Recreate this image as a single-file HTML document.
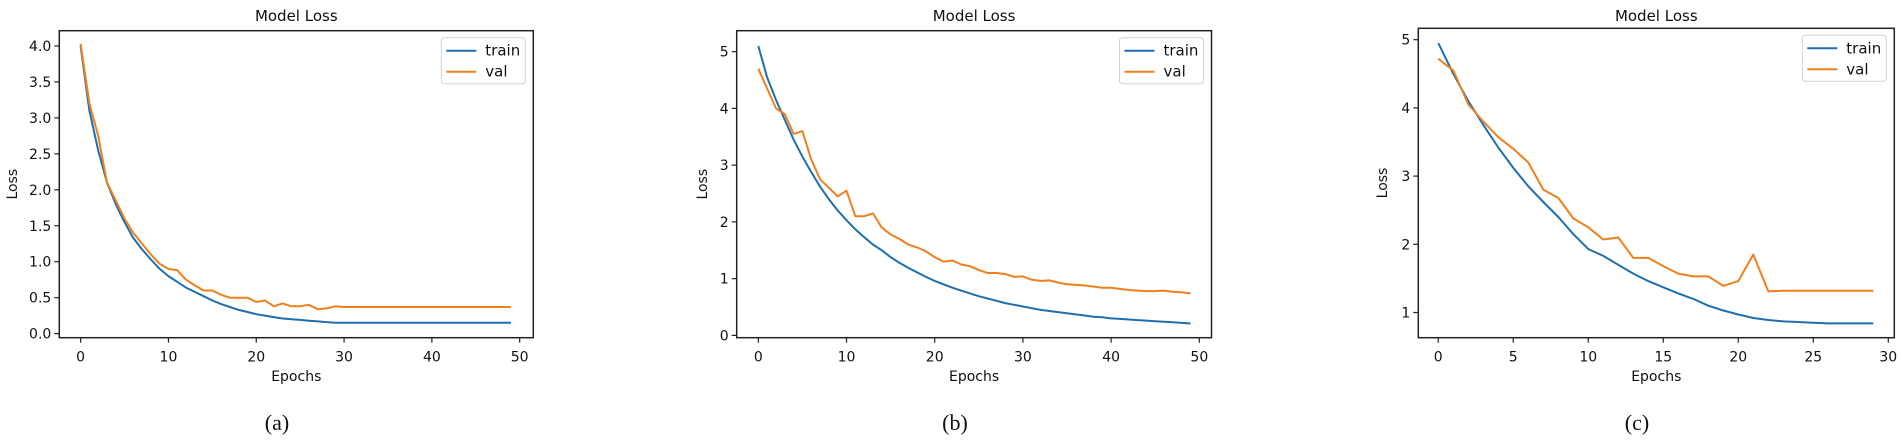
<!DOCTYPE html>
<html><head><meta charset="utf-8">
<style>
html,body{margin:0;padding:0;background:#fff;}
svg{display:block;}
text{font-family:"DejaVu Sans","Liberation Sans",sans-serif;fill:#111;}
.cap{font-family:"Liberation Serif",serif;font-size:22px;}
</style></head>
<body>
<svg id="fig" width="1902" height="445" viewBox="0 0 1902 445" xmlns="http://www.w3.org/2000/svg"></svg>
<script>
const trainA=[4.0,3.1,2.55,2.1,1.8,1.55,1.33,1.17,1.03,0.9,0.8,0.72,0.64,0.58,0.52,0.46,0.41,0.37,0.33,0.3,0.27,0.25,0.23,0.21,0.2,0.19,0.18,0.17,0.16,0.15,0.15,0.15,0.15,0.15,0.15,0.15,0.15,0.15,0.15,0.15,0.15,0.15,0.15,0.15,0.15,0.15,0.15,0.15,0.15,0.15];
const valA=[4.03,3.2,2.75,2.1,1.85,1.6,1.4,1.25,1.1,0.97,0.9,0.88,0.75,0.67,0.6,0.6,0.54,0.5,0.5,0.5,0.44,0.46,0.38,0.42,0.38,0.38,0.4,0.34,0.35,0.38,0.37,0.37,0.37,0.37,0.37,0.37,0.37,0.37,0.37,0.37,0.37,0.37,0.37,0.37,0.37,0.37,0.37,0.37,0.37,0.37];
const trainB=[5.1,4.55,4.15,3.8,3.45,3.15,2.88,2.62,2.4,2.2,2.03,1.87,1.73,1.6,1.5,1.38,1.28,1.19,1.11,1.03,0.96,0.9,0.84,0.79,0.74,0.69,0.65,0.61,0.57,0.54,0.51,0.48,0.45,0.43,0.41,0.39,0.37,0.35,0.33,0.32,0.3,0.29,0.28,0.27,0.26,0.25,0.24,0.23,0.22,0.21];
const valB=[4.7,4.35,4.0,3.9,3.55,3.6,3.1,2.75,2.6,2.45,2.55,2.1,2.1,2.15,1.9,1.78,1.7,1.6,1.55,1.48,1.38,1.3,1.32,1.25,1.22,1.15,1.1,1.1,1.08,1.03,1.04,0.98,0.96,0.97,0.93,0.9,0.89,0.88,0.86,0.84,0.84,0.82,0.8,0.79,0.78,0.78,0.79,0.77,0.76,0.74];
const trainC=[4.95,4.5,4.1,3.75,3.42,3.12,2.85,2.62,2.4,2.15,1.93,1.83,1.7,1.57,1.46,1.37,1.28,1.2,1.1,1.03,0.97,0.92,0.89,0.87,0.86,0.85,0.84,0.84,0.84,0.84];
const valC=[4.72,4.55,4.05,3.8,3.57,3.4,3.2,2.8,2.68,2.38,2.25,2.07,2.1,1.8,1.8,1.68,1.57,1.53,1.53,1.39,1.46,1.85,1.31,1.32,1.32,1.32,1.32,1.32,1.32,1.32];
const xTicksAB=[0,10,20,30,40,50];
const xTicksC=[0,5,10,15,20,25,30];
const yTicksA=[0,0.5,1,1.5,2,2.5,3,3.5,4];
const yTickLabelsA=["0.0","0.5","1.0","1.5","2.0","2.5","3.0","3.5","4.0"];
const yTicksB=[0,1,2,3,4,5];
const yTicksC=[1,2,3,4,5];
const captions=["(a)","(b)","(c)"];

const NS="http://www.w3.org/2000/svg";
const fig=document.getElementById('fig');
function el(tag,attrs,parent,txt){const e=document.createElementNS(NS,tag);for(const k in attrs)e.setAttribute(k,attrs[k]);if(txt!==undefined)e.textContent=txt;(parent||fig).appendChild(e);return e;}

function chart(o){
  const g=el('g',{});
  
  
  const xs=v=>o.x0+(v-o.xmin)*(o.x1-o.x0)/(o.xmax-o.xmin);
  const ys=v=>o.y1-(v-o.ymin)*(o.y1-o.y0)/(o.ymax-o.ymin);
  function line(data,color,nm){
    const d=data.map((v,i)=>(i?'L':'M')+xs(i).toFixed(1)+' '+ys(v).toFixed(1)).join(' ');
    const p=el('path',{d:d,fill:'none',stroke:color,'stroke-width':2,'stroke-linejoin':'round'},g);
    
    
  }
  line(o.train,'#1f6fae','train-line');
  line(o.val,'#f07f1e','val-line');
  const fr=el('rect',{x:o.x0,y:o.y0,width:o.x1-o.x0,height:o.y1-o.y0,fill:'none',stroke:'#222','stroke-width':1.5},g);
  
  
  o.xt.forEach(t=>{
    const x=xs(t);
    el('line',{x1:x,x2:x,y1:o.y1,y2:o.y1+5,stroke:'#222','stroke-width':1.2},g);
    const tx=el('text',{x:x,y:o.y1+24,'text-anchor':'middle','font-size':14},g,String(t));
    
    
  });
  o.yt.forEach((t,i)=>{
    const y=ys(t);
    el('line',{x1:o.x0,x2:o.x0-5,y1:y,y2:y,stroke:'#222','stroke-width':1.2},g);
    const tx=el('text',{x:o.x0-8,y:y+5,'text-anchor':'end','font-size':14},g,o.yl?o.yl[i]:String(t));
    
    
  });
  const ti=el('text',{x:(o.x0+o.x1)/2,y:21,'text-anchor':'middle','font-size':15},g,'Model Loss');
  
  
  const xl=el('text',{x:(o.x0+o.x1)/2,y:381,'text-anchor':'middle','font-size':14},g,'Epochs');
  
  
  const yl=el('text',{x:0,y:0,'text-anchor':'middle','font-size':14,transform:'translate('+(o.ylx)+','+((o.y0+o.y1)/2)+') rotate(-90)'},g,'Loss');
  
  
  const lx=o.x1-8-84, ly=o.y0+7;
  const lg=el('g',{},g);
  
  
  el('rect',{x:lx,y:ly,width:84,height:46,rx:3,fill:'#fff',stroke:'#d0d0d0','stroke-width':1},lg);
  el('line',{x1:lx+5,x2:lx+35,y1:ly+13,y2:ly+13,stroke:'#1f6fae','stroke-width':2},lg);
  const t1=el('text',{x:lx+44,y:ly+18,'font-size':15},lg,'train');
  
  
  el('line',{x1:lx+5,x2:lx+35,y1:ly+34,y2:ly+34,stroke:'#f07f1e','stroke-width':2},lg);
  const t2=el('text',{x:lx+44,y:ly+39,'font-size':15},lg,'val');
  
  
  const cp=el('text',{x:o.capx,y:430,'text-anchor':'middle',class:'cap'},fig,o.cap);
  
  
}
chart({name:'chart-a',x0:59.3,x1:533.3,y0:30.7,y1:337.7,xmin:-2.43,xmax:51.55,ymin:(333.6-337.7)/71.9,ymax:(333.6-30.7)/71.9,train:trainA,val:valA,xt:xTicksAB,yt:yTicksA,yl:yTickLabelsA,ylx:17,cap:captions[0],capx:277});
chart({name:'chart-b',x0:736.7,x1:1211.5,y0:30.7,y1:337.7,xmin:-2.45,xmax:51.38,ymin:(335.4-337.7)/56.75,ymax:(335.4-30.7)/56.75,train:trainB,val:valB,xt:xTicksAB,yt:yTicksB,ylx:707,cap:captions[1],capx:955});
chart({name:'chart-c',x0:1418.3,x1:1894.3,y0:28.3,y1:337.7,xmin:-1.33,xmax:30.4,ymin:1-(337.7-312.5)/68.2,ymax:1+(312.5-28.3)/68.2,train:trainC,val:valC,xt:xTicksC,yt:yTicksC,ylx:1387,cap:captions[2],capx:1637});
</script>
</body></html>
